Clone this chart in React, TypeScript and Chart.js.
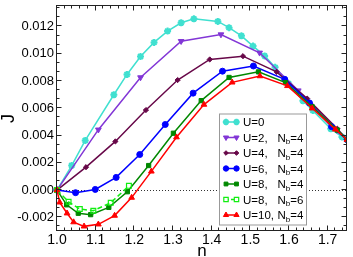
import React, { useEffect, useRef } from 'react';
import { Chart, registerables } from 'chart.js';
import { drawPoint } from 'chart.js/helpers';

Chart.register(...registerables);

const FAMILY = '"Liberation Sans", Arial, Helvetica, sans-serif';

// Tick labels
const xTicks = [1.0, 1.1, 1.2, 1.3, 1.4, 1.5, 1.6, 1.7];
const yTicks = [-0.002, 0.0, 0.002, 0.004, 0.006, 0.008, 0.01, 0.012];

// Series data (n, J)
const u0N = [1.0, 1.038, 1.073, 1.147, 1.181, 1.216, 1.251, 1.286, 1.321, 1.354, 1.416, 1.445, 1.477, 1.507, 1.537, 1.564, 1.599, 1.636, 1.662, 1.708, 1.737];
const u0J = [0, 0.0018, 0.00364, 0.00699, 0.00848, 0.0098, 0.01083, 0.01166, 0.01227, 0.01256, 0.01237, 0.01191, 0.01131, 0.01056, 0.00984, 0.009, 0.0078, 0.00655, 0.00583, 0.0045, 0.0039];

const u2N = [1.0, 1.107, 1.216, 1.321, 1.424, 1.524, 1.624, 1.724, 1.75];
const u2J = [0, 0.00443, 0.00826, 0.01092, 0.01141, 0.01007, 0.0073, 0.0044, 0.0037];

const u4N = [1.0, 1.075, 1.151, 1.23, 1.312, 1.395, 1.481, 1.568, 1.647, 1.725, 1.75];
const u4J = [0, 0.00168, 0.00357, 0.00587, 0.00807, 0.00958, 0.00982, 0.00867, 0.00671, 0.0045, 0.0037];

const u6N = [1.0, 1.048, 1.099, 1.153, 1.214, 1.28, 1.352, 1.428, 1.508, 1.589, 1.653, 1.71, 1.75];
const u6J = [0, -0.00019, 0.00005, 0.00093, 0.00261, 0.00481, 0.00711, 0.00872, 0.0091, 0.00812, 0.00639, 0.00465, 0.0037];

const u8N = [1.0, 1.025, 1.055, 1.087, 1.134, 1.182, 1.237, 1.301, 1.373, 1.445, 1.521, 1.591, 1.66, 1.725, 1.75];
const u8J = [0, -0.00108, -0.0017, -0.0018, -0.00127, -0.00012, 0.0018, 0.00417, 0.00656, 0.00826, 0.00867, 0.00788, 0.0061, 0.0044, 0.0037];

const u8b6N = [1.0, 1.03, 1.059, 1.094, 1.139, 1.186];
const u8b6J = [0, -0.00086, -0.00139, -0.00151, -0.00093, 0.00031];

const u10N = [1.0, 1.007, 1.026, 1.043, 1.07, 1.107, 1.149, 1.193, 1.244, 1.309, 1.38, 1.453, 1.525, 1.596, 1.66, 1.72, 1.75];
const u10J = [0, -0.0009, -0.0017, -0.00235, -0.00266, -0.00251, -0.00187, -0.00055, 0.00137, 0.00388, 0.00627, 0.0079, 0.00836, 0.00764, 0.006, 0.00445, 0.0037];

// Legend texts
const legendU = ['U=0', 'U=2,', 'U=4,', 'U=6,', 'U=8,', 'U=8,', 'U=10,'];
const legendNb = ['', '4', '4', '4', '4', '6', '4'];

const zip = (xs: number[], ys: number[]) => xs.map((x, i) => ({ x, y: ys[i] }));

type Style = {
  color: string;
  pointStyle: string;
  radius: number;
  rotation: number;
  fill: boolean;
  dash: number[];
  pbw: number;
};

const styles: Style[] = [
  { color: '#40e0d0', pointStyle: 'star', radius: 3.5, rotation: 0, fill: true, dash: [], pbw: 2 },
  { color: '#8236d6', pointStyle: 'triangle', radius: 3.3, rotation: 180, fill: true, dash: [], pbw: 1 },
  { color: '#670748', pointStyle: 'rectRot', radius: 2.6, rotation: 0, fill: true, dash: [], pbw: 1 },
  { color: '#0000ff', pointStyle: 'circle', radius: 3, rotation: 0, fill: true, dash: [], pbw: 1 },
  { color: '#008800', pointStyle: 'rect', radius: 3, rotation: 0, fill: true, dash: [], pbw: 1 },
  { color: '#11ee11', pointStyle: 'rect', radius: 3.4, rotation: 0, fill: false, dash: [5, 3], pbw: 1.2 },
  { color: '#ff0000', pointStyle: 'triangle', radius: 3.3, rotation: 0, fill: true, dash: [], pbw: 1 },
];

const seriesData = [
  zip(u0N, u0J),
  zip(u2N, u2J),
  zip(u4N, u4J),
  zip(u6N, u6J),
  zip(u8N, u8J),
  zip(u8b6N, u8b6J),
  zip(u10N, u10J),
];

const zeroLinePlugin = {
  id: 'zeroLine',
  beforeDatasetsDraw(chart: any) {
    const { ctx, chartArea, scales } = chart;
    const y0 = Math.round(scales.y.getPixelForValue(0)) + 0.5;
    ctx.save();
    ctx.strokeStyle = '#333';
    ctx.lineWidth = 1;
    ctx.setLineDash([1, 2]);
    ctx.beginPath();
    ctx.moveTo(chartArea.left, y0);
    ctx.lineTo(chartArea.right, y0);
    ctx.stroke();
    ctx.restore();
  },
};

const legendPlugin = {
  id: 'xmLegend',
  afterDatasetsDraw(chart: any) {
    const { ctx, chartArea } = chart;
    const bx = chartArea.left + 162.5;
    const by = chartArea.top + 108;
    const bw = 87;
    const bh = 111;
    ctx.save();
    ctx.fillStyle = '#fff';
    ctx.fillRect(bx, by, bw, bh);
    ctx.strokeStyle = '#999';
    ctx.lineWidth = 1;
    ctx.strokeRect(bx, by, bw, bh);
    for (let i = 0; i < styles.length; i++) {
      const s = styles[i];
      const cy = by + 8 + 15.5 * i;
      const x1 = bx + 6.5;
      const x2 = bx + 17;
      ctx.strokeStyle = s.color;
      ctx.lineWidth = 1.5;
      ctx.setLineDash(s.dash.length ? [3, 2] : []);
      ctx.beginPath();
      ctx.moveTo(x1, cy);
      ctx.lineTo(x2, cy);
      ctx.stroke();
      ctx.setLineDash([]);
      ctx.fillStyle = s.fill ? s.color : '#fff';
      ctx.strokeStyle = s.color;
      ctx.lineWidth = s.pbw;
      const opts = { pointStyle: s.pointStyle, rotation: s.rotation, radius: s.radius - 0.3, borderWidth: s.pbw };
      drawPoint(ctx, opts as any, x1, cy);
      drawPoint(ctx, opts as any, x2, cy);
      ctx.fillStyle = '#000';
      ctx.font = `11.5px ${FAMILY}`;
      ctx.textBaseline = 'alphabetic';
      ctx.textAlign = 'left';
      const base = cy + 4.2;
      ctx.fillText(legendU[i], bx + 23.5, base);
      if (legendNb[i]) {
        let x = bx + 58;
        ctx.fillText('N', x, base);
        x += ctx.measureText('N').width;
        ctx.font = `8px ${FAMILY}`;
        ctx.fillText('b', x, base + 2.5);
        x += ctx.measureText('b').width;
        ctx.font = `11.5px ${FAMILY}`;
        ctx.fillText('=' + legendNb[i], x, base);
      }
    }
    ctx.restore();
  },
};

const framePlugin = {
  id: 'frame',
  afterDraw(chart: any) {
    const { ctx, chartArea, scales } = chart;
    const { left, right, top, bottom } = chartArea;
    const L = left - 0.5, R = right - 0.5, T = top - 0.5, B = bottom - 0.5;
    ctx.save();
    ctx.strokeStyle = '#222';
    ctx.lineWidth = 1;
    ctx.beginPath();
    const xs = scales.x;
    for (let k = 0; ; k++) {
      const v = 1.0 + k * 0.02;
      if (v > xs.max + 1e-9) break;
      const major = k % 5 === 0;
      const len = major ? 5 : 3;
      const px = Math.round(xs.getPixelForValue(v)) - 0.5;
      ctx.moveTo(px, B);
      ctx.lineTo(px, B - len);
      ctx.moveTo(px, T);
      ctx.lineTo(px, T + len);
    }
    const ys = scales.y;
    const step = 0.002 / 3;
    for (let k = -6; k < 40; k++) {
      const v = k * step;
      if (v < ys.min - 1e-9 || v > ys.max + 1e-9) continue;
      const major = ((k % 3) + 3) % 3 === 0;
      const len = major ? 5 : 3;
      const py = Math.round(ys.getPixelForValue(v)) - 0.5;
      ctx.moveTo(L, py);
      ctx.lineTo(L + len, py);
      ctx.moveTo(R, py);
      ctx.lineTo(R - len, py);
    }
    ctx.stroke();
    ctx.strokeRect(L, T, R - L, B - T);
    ctx.restore();
  },
};

export default function App() {
  const ref = useRef<HTMLCanvasElement>(null);
  useEffect(() => {
    if (!ref.current) return;
    const n = styles.length;
    const chart = new Chart(ref.current, {
      type: 'line',
      data: {
        datasets: seriesData.map((d, i) => {
          const s = styles[i];
          return {
            label: legendU[i] + (legendNb[i] ? ' Nb=' + legendNb[i] : ''),
            data: d,
            borderColor: s.color,
            backgroundColor: s.color,
            borderWidth: 1.5,
            borderDash: s.dash,
            pointStyle: s.pointStyle as any,
            pointRadius: s.radius,
            pointRotation: s.rotation,
            pointBackgroundColor: s.fill ? s.color : 'rgba(255,255,255,0)',
            pointBorderColor: s.color,
            pointBorderWidth: s.pbw,
            tension: 0,
            fill: false,
            order: n - i,
            clip: { left: 6, right: 0, top: 0, bottom: 0 } as any,
          };
        }),
      },
      options: {
        responsive: false,
        animation: false,
        devicePixelRatio: 1,
        layout: { padding: { left: 0, right: 2, top: 1, bottom: 0 } },
        plugins: {
          legend: { display: false },
          tooltip: { enabled: false },
        },
        events: [],
        scales: {
          x: {
            type: 'linear',
            min: 1.0,
            max: 1.75,
            afterBuildTicks: (scale: any) => {
              scale.ticks = xTicks.map((v) => ({ value: v }));
            },
            afterFit: (scale: any) => {
              scale.height = 26;
              scale.paddingLeft = 0;
              scale.paddingRight = 0;
            },
            grid: { display: false, drawTicks: false },
            border: { display: false },
            ticks: {
              padding: 1,
              color: '#000',
              font: { family: FAMILY, size: 14 },
              maxRotation: 0,
              autoSkip: false,
              callback: (v: any) => Number(v).toFixed(1),
            },
            title: {
              display: true,
              text: 'n',
              color: '#000',
              font: { family: FAMILY, size: 17, lineHeight: 1 },
              padding: { top: 0, bottom: -3 },
            },
          },
          y: {
            type: 'linear',
            min: -0.003,
            max: 0.0135,
            afterBuildTicks: (scale: any) => {
              scale.ticks = yTicks.map((v) => ({ value: v }));
            },
            afterFit: (scale: any) => {
              scale.width = 57;
              scale.paddingTop = 0;
              scale.paddingBottom = 0;
            },
            grid: { display: false, drawTicks: false },
            border: { display: false },
            ticks: {
              padding: 3,
              color: '#000',
              font: { family: FAMILY, size: 13 },
              autoSkip: false,
              callback: (v: any) => Number(v).toFixed(3),
            },
            title: {
              display: true,
              text: 'J',
              color: '#000',
              font: { family: FAMILY, size: 18, lineHeight: 1 },
              padding: 0,
            },
          },
        },
      },
      plugins: [zeroLinePlugin, legendPlugin, framePlugin],
    } as any);
    return () => chart.destroy();
  }, []);
  return (
    <div style={{ position: 'absolute', left: 0, top: 0, width: 353, height: 257 }}>
      <canvas ref={ref} width={353} height={257} style={{ display: 'block' }} />
    </div>
  );
}
